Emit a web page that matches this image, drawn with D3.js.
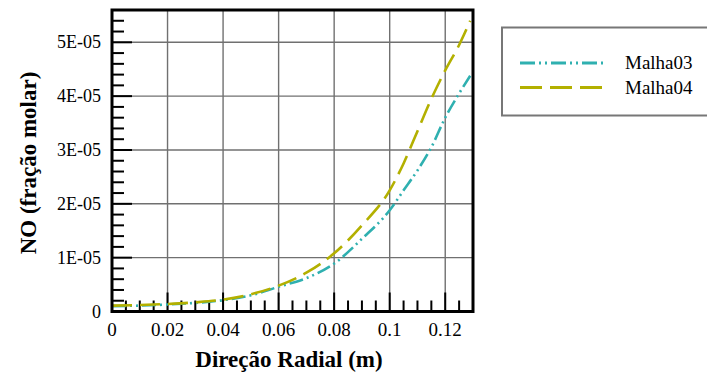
<!DOCTYPE html>
<html>
<head>
<meta charset="utf-8">
<script src="https://cdn.jsdelivr.net/npm/d3@7"></script>
<style>
  html, body { margin: 0; padding: 0; background: #fff; }
  svg { display: block; }
</style>
</head>
<body>
<svg id="chart" width="707" height="375" font-family="'Liberation Serif', 'DejaVu Serif', 'Noto Serif', Tinos, FreeSerif, 'Nimbus Roman', 'Times New Roman', Times, serif"></svg>
<script>
// Radial position (m) at which NO mole fraction was sampled
const radial = [0, 0.01, 0.02, 0.03, 0.04, 0.05, 0.06, 0.07, 0.08, 0.09, 0.10, 0.105, 0.11, 0.115, 0.12, 0.125, 0.129];
// NO mole fraction for each mesh
const malha03 = [1.0e-6, 1.1e-6, 1.3e-6, 1.6e-6, 2.1e-6, 3.0e-6, 4.6e-6, 6.2e-6, 8.9e-6, 1.35e-5, 1.88e-5, 2.25e-5, 2.62e-5, 3.05e-5, 3.6e-5, 4.05e-5, 4.38e-5];
const malha04 = [1.1e-6, 1.2e-6, 1.4e-6, 1.7e-6, 2.2e-6, 3.2e-6, 4.8e-6, 7.2e-6, 1.08e-5, 1.6e-5, 2.25e-5, 2.75e-5, 3.35e-5, 3.95e-5, 4.48e-5, 4.95e-5, 5.4e-5];
const seriesNames = ["Malha03", "Malha04"];

const xTicks = [0, 0.02, 0.04, 0.06, 0.08, 0.1, 0.12];
const xTickLabels = ["0", "0.02", "0.04", "0.06", "0.08", "0.1", "0.12"];
const yTicks = [0, 1e-5, 2e-5, 3e-5, 4e-5, 5e-5];
const yTickLabels = ["0", "1E-05", "2E-05", "3E-05", "4E-05", "5E-05"];

const xTitle = "Direção Radial (m)";
const yTitle = "NO (fração molar)";

const svg = d3.select("#chart");
const W = 707, H = 375;
svg.append("rect").attr("width", W).attr("height", H).attr("fill", "#fff");

const plot = { left: 112, right: 473, top: 10, bottom: 311.5 };

const x = d3.scaleLinear().domain([0, 0.13]).range([plot.left, plot.right]);
const y = d3.scaleLinear().domain([0, 5.6e-5]).range([plot.bottom, plot.top]);

// grid
const grid = svg.append("g");
grid.selectAll("line.vx").data(xTicks.slice(1)).join("line")
  .attr("x1", d => x(d)).attr("x2", d => x(d))
  .attr("y1", plot.top).attr("y2", plot.bottom)
  .attr("stroke", "#707070").attr("stroke-width", 1.4);
grid.selectAll("line.hy").data(yTicks.slice(1)).join("line")
  .attr("x1", plot.left).attr("x2", plot.right)
  .attr("y1", d => y(d)).attr("y2", d => y(d))
  .attr("stroke", "#707070").attr("stroke-width", 1.4);

// minor + major ticks (inward)
const xMinor = d3.range(0, 0.1301, 0.005).filter(v => Math.abs(v / 0.02 - Math.round(v / 0.02)) > 1e-6);
const yMinor = d3.range(0, 5.61e-5, 2e-6).filter(v => Math.abs(v / 1e-5 - Math.round(v / 1e-5)) > 1e-6);
const ticks = svg.append("g").attr("stroke", "#000").attr("stroke-width", 2);
ticks.selectAll("line.xm").data(xMinor).join("line")
  .attr("x1", d => x(d)).attr("x2", d => x(d))
  .attr("y1", plot.bottom).attr("y2", plot.bottom - 11);
ticks.selectAll("line.xM").data(xTicks).join("line")
  .attr("x1", d => x(d)).attr("x2", d => x(d))
  .attr("y1", plot.bottom).attr("y2", plot.bottom - 19);
ticks.selectAll("line.ym").data(yMinor).join("line")
  .attr("x1", plot.left).attr("x2", plot.left + 12)
  .attr("y1", d => y(d)).attr("y2", d => y(d));
ticks.selectAll("line.yM").data(yTicks).join("line")
  .attr("x1", plot.left).attr("x2", plot.left + 20)
  .attr("y1", d => y(d)).attr("y2", d => y(d));

// curves
const data03 = radial.map((r, i) => [r, malha03[i]]);
const data04 = radial.map((r, i) => [r, malha04[i]]);
const line = d3.line().x(d => x(d[0])).y(d => y(d[1])).curve(d3.curveMonotoneX);

const styles = [
  { color: "#2fb0b0", dash: "14,4,2,4,2,4" },
  { color: "#b3b000", dash: "20,8" }
];

svg.append("path").datum(data03).attr("d", line)
  .attr("fill", "none").attr("stroke", styles[0].color)
  .attr("stroke-width", 2.6).attr("stroke-dasharray", styles[0].dash);
svg.append("path").datum(data04).attr("d", line)
  .attr("fill", "none").attr("stroke", styles[1].color)
  .attr("stroke-width", 2.6).attr("stroke-dasharray", styles[1].dash);

// frame
svg.append("rect")
  .attr("x", plot.left).attr("y", plot.top)
  .attr("width", plot.right - plot.left).attr("height", plot.bottom - plot.top)
  .attr("fill", "none").attr("stroke", "#000").attr("stroke-width", 3);

// tick labels
svg.append("g").selectAll("text").data(xTicks).join("text")
  .attr("x", d => x(d)).attr("y", 336)
  .attr("text-anchor", "middle").attr("font-size", 19)
  .text((d, i) => xTickLabels[i]);
svg.append("g").selectAll("text").data(yTicks).join("text")
  .attr("x", 101).attr("y", d => y(d) + 6)
  .attr("text-anchor", "end").attr("font-size", 18)
  .text((d, i) => yTickLabels[i]);

// axis titles
svg.append("text")
  .attr("x", 289).attr("y", 367)
  .attr("text-anchor", "middle").attr("font-size", 23).attr("font-weight", "bold")
  .text(xTitle);
svg.append("text")
  .attr("transform", "translate(36,163) rotate(-90)")
  .attr("text-anchor", "middle").attr("font-size", 23).attr("font-weight", "bold")
  .text(yTitle);

// legend
const lg = svg.append("g");
lg.append("rect")
  .attr("x", 502).attr("y", 27.5).attr("width", 230).attr("height", 88)
  .attr("fill", "#fff").attr("stroke", "#777").attr("stroke-width", 2);
seriesNames.forEach((name, i) => {
  const yy = 63 + i * 24.5;
  lg.append("line")
    .attr("x1", 520).attr("x2", 607).attr("y1", yy).attr("y2", yy)
    .attr("stroke", styles[i].color).attr("stroke-width", 3)
    .attr("stroke-dasharray", i === 0 ? "15,4,2,4,2,4" : "22,8");
  lg.append("text")
    .attr("x", 625).attr("y", yy + 6)
    .attr("font-size", 19)
    .text(name);
});
</script>
</body>
</html>
